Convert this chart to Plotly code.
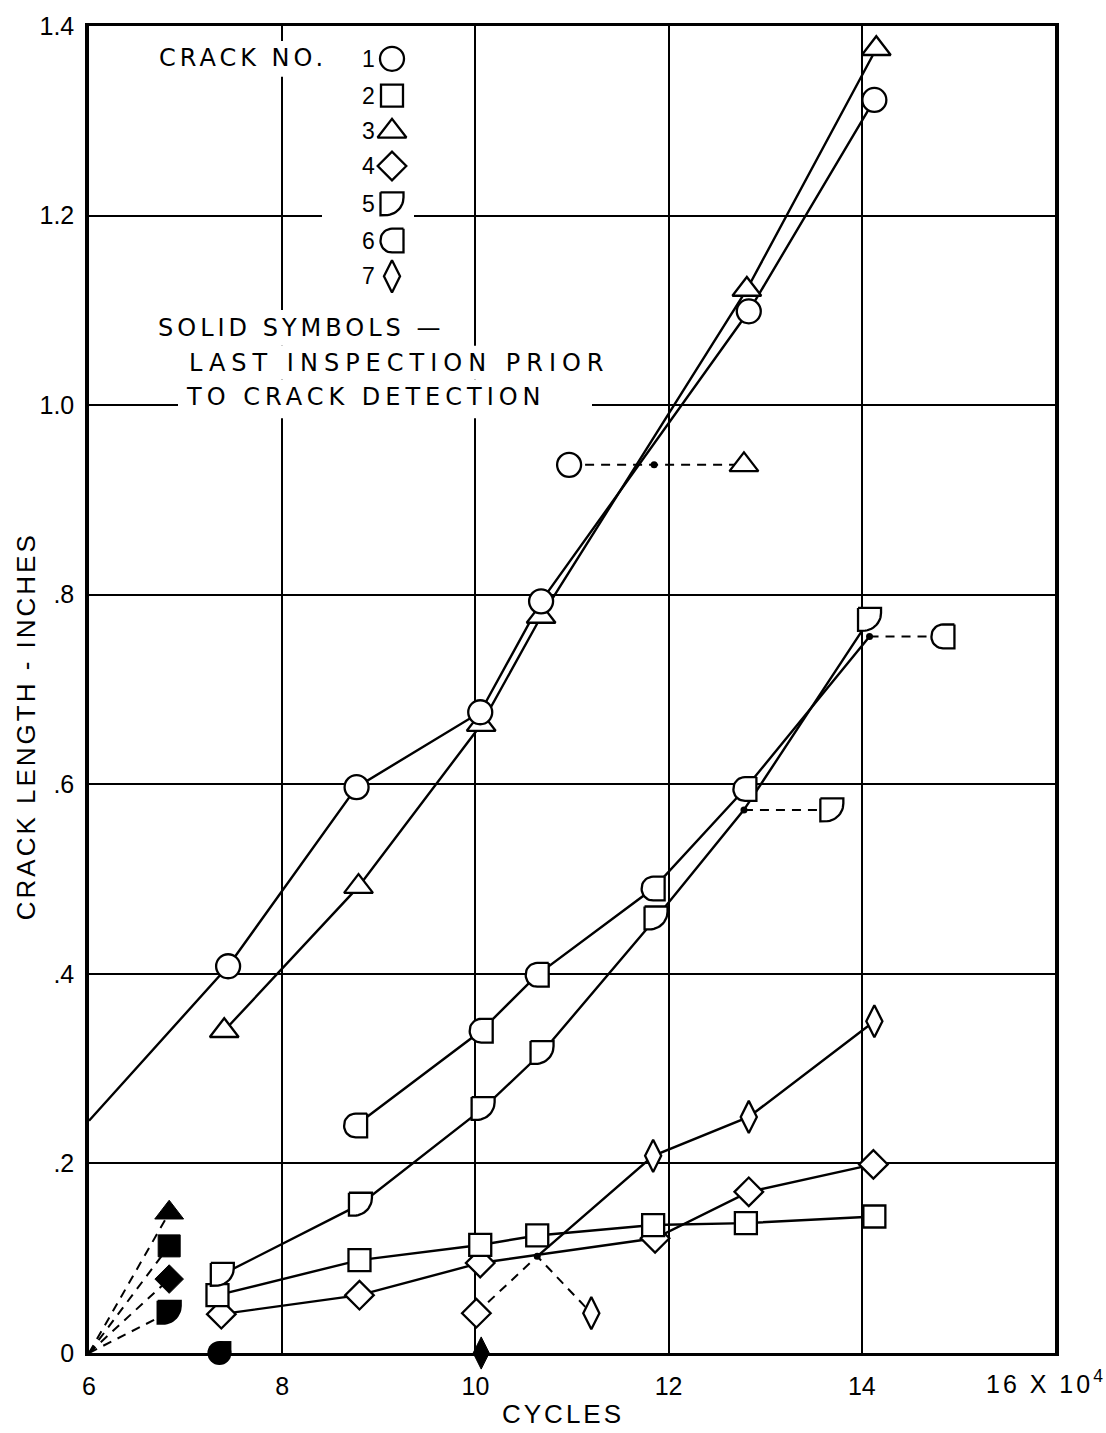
import numpy as np
import plotly.graph_objects as go

# ---------------- data: cycles (x 10^4) and crack length (inches) ----------------
crack1_cycles = [6.00, 7.44, 8.77, 10.05, 10.68, 12.83, 14.13]   # first point: line start only
crack1_length = [0.245, 0.408, 0.597, 0.676, 0.793, 1.099, 1.322]
crack2_cycles = [7.33, 8.80, 10.05, 10.64, 11.84, 12.80, 14.13]
crack2_length = [0.061, 0.098, 0.114, 0.124, 0.135, 0.137, 0.144]
crack3_cycles = [7.40, 8.79, 10.06, 10.68, 12.81, 14.15]
crack3_length = [0.340, 0.492, 0.663, 0.777, 1.122, 1.376]
crack4_cycles = [7.37, 8.80, 10.05, 11.86, 12.83, 14.12]
crack4_length = [0.041, 0.061, 0.095, 0.121, 0.170, 0.199]
crack5_cycles = [7.38, 8.81, 10.08, 10.69, 11.87, 12.78, 14.08]  # 12.78 shown as dot
crack5_length = [0.083, 0.157, 0.258, 0.317, 0.459, 0.573, 0.774]
crack6_cycles = [8.76, 10.06, 10.64, 11.84, 12.79, 14.08]        # 14.08 shown as dot
crack6_length = [0.240, 0.340, 0.399, 0.490, 0.595, 0.756]
crack7_cycles = [10.64, 11.84, 12.83, 14.13]                     # first point: dot on crack 4
crack7_length = [0.102, 0.208, 0.249, 0.350]

# displaced symbols (linked to dots by dashed lines)
crack5_label_cycles, crack5_label_length = 13.69, 0.573
crack6_label_cycles, crack6_label_length = 14.84, 0.756
link13_cycles = [10.97, 11.85, 12.78]          # circle - dot - triangle
link13_length = [0.937, 0.937, 0.937]
link47_cycles = [10.01, 10.64, 11.20]          # diamond - dot - tall diamond
link47_length = [0.042, 0.102, 0.042]

# solid symbols: last inspection prior to crack detection
solid_crack = [3, 2, 4, 5, 6, 7]
solid_cycles = [6.83, 6.83, 6.83, 6.83, 7.35, 10.06]
solid_length = [0.148, 0.113, 0.078, 0.043, 0.0, 0.0]
ray_origin_cycles, ray_origin_length = 6.0, 0.0

x_ticks = [6, 8, 10, 12, 14]
x_ticktext = ["6", "8", "10", "12", "14"]
y_ticks = [0, 0.2, 0.4, 0.6, 0.8, 1.0, 1.2, 1.4]
y_ticktext = ["0", ".2", ".4", ".6", ".8", "1.0", "1.2", "1.4"]

# ---------------- layout constants ----------------
W, H = 1106, 1433
ML, MR, MT, MB = 89, 51, 17, 80
PW, PH = W - ML - MR, H - MT - MB
XR, YR = (6, 16), (0, 1.4)
PPX = PW / (XR[1] - XR[0])
PPY = PH / (YR[1] - YR[0])
LW = 2.4
OUT = 2.3
BLACK = "black"


def px_x(px):
    return XR[0] + (px - ML) / PPX


def px_y(py):
    return YR[0] + (MT + PH - py) / PPY


def paper_x(px):
    return (px - ML) / PW


def paper_y(py):
    return (MT + PH - py) / PH


def spaced(s, sp):
    return f'<span style="letter-spacing:{sp}px">{s}</span>'


def d5_offsets(w=23, h=23):
    r = 0.78 * min(w, h)
    pts = [(-w / 2, -h / 2), (w / 2, -h / 2), (w / 2, h / 2 - r)]
    cx, cy = w / 2 - r, h / 2 - r
    for t in np.linspace(0, np.pi / 2, 14):
        pts.append((cx + r * np.cos(t), cy + r * np.sin(t)))
    pts += [(-w / 2, h / 2), (-w / 2, -h / 2)]
    return pts


def d6_offsets(w=23, h=24):
    r = 0.48 * h
    pts = [(w / 2, -h / 2), (w / 2, h / 2), (-w / 2 + r, h / 2)]
    cx, cy = -w / 2 + r, h / 2 - r
    for t in np.linspace(np.pi / 2, np.pi, 10):
        pts.append((cx + r * np.cos(t), cy + r * np.sin(t)))
    cx, cy = -w / 2 + r, -h / 2 + r
    for t in np.linspace(np.pi, 1.5 * np.pi, 10):
        pts.append((cx + r * np.cos(t), cy + r * np.sin(t)))
    pts.append((w / 2, -h / 2))
    return pts


def poly_trace(xs, ys, offsets, fill):
    X, Y = [], []
    for x, y in zip(xs, ys):
        for dx, dy in offsets:
            X.append(x + dx / PPX)
            Y.append(y - dy / PPY)
        X.append(None)
        Y.append(None)
    return go.Scatter(x=X, y=Y, mode="lines", fill="toself", fillcolor=fill,
                      line=dict(color=BLACK, width=OUT), hoverinfo="skip",
                      showlegend=False)


def line_trace(xs, ys, dash="solid", width=LW):
    return go.Scatter(x=xs, y=ys, mode="lines",
                      line=dict(color=BLACK, width=width, dash=dash),
                      hoverinfo="skip", showlegend=False)


def marker_trace(xs, ys, symbol, size, fill="white", outline=OUT):
    return go.Scatter(x=xs, y=ys, mode="markers", cliponaxis=False,
                      marker=dict(symbol=symbol, size=size, color=fill,
                                  line=dict(color=BLACK, width=outline)),
                      hoverinfo="skip", showlegend=False)


fig = go.Figure()

# ---------------- solid lines ----------------
for xs, ys in [(crack1_cycles, crack1_length), (crack2_cycles, crack2_length),
               (crack3_cycles, crack3_length), (crack4_cycles, crack4_length),
               (crack5_cycles, crack5_length), (crack6_cycles, crack6_length),
               (crack7_cycles, crack7_length)]:
    fig.add_trace(line_trace(xs, ys))

# ---------------- dashed lines ----------------
DASH = "9px,7px"
DW = 2.0
fig.add_trace(line_trace(link13_cycles, link13_length, DASH, DW))
fig.add_trace(line_trace(link47_cycles, link47_length, DASH, DW))
fig.add_trace(line_trace([crack5_cycles[5], crack5_label_cycles],
                         [crack5_length[5], crack5_label_length], DASH, DW))
fig.add_trace(line_trace([crack6_cycles[-1], crack6_label_cycles],
                         [crack6_length[-1], crack6_label_length], DASH, DW))
for c, x, y in zip(solid_crack, solid_cycles, solid_length):
    if c in (2, 3, 4, 5):
        fig.add_trace(line_trace([ray_origin_cycles, x], [ray_origin_length, y], DASH, DW))

# ---------------- open symbols ----------------
fig.add_trace(marker_trace(crack7_cycles[1:] + [link47_cycles[2]],
                           crack7_length[1:] + [link47_length[2]], "diamond-tall", 23))
fig.add_trace(marker_trace(crack4_cycles + [link47_cycles[0]],
                           crack4_length + [link47_length[0]], "diamond", 22))
fig.add_trace(marker_trace(crack2_cycles, crack2_length, "square", 22))
c5x = crack5_cycles[:5] + crack5_cycles[6:] + [crack5_label_cycles]
c5y = crack5_length[:5] + crack5_length[6:] + [crack5_label_length]
fig.add_trace(poly_trace(c5x, c5y, d5_offsets(), "white"))
c6x = crack6_cycles[:-1] + [crack6_label_cycles]
c6y = crack6_length[:-1] + [crack6_label_length]
fig.add_trace(poly_trace(c6x, c6y, d6_offsets(), "white"))
fig.add_trace(marker_trace(crack3_cycles + [link13_cycles[2]],
                           crack3_length + [link13_length[2]], "triangle-up", 25))
fig.add_trace(marker_trace(crack1_cycles[1:] + [link13_cycles[0]],
                           crack1_length[1:] + [link13_length[0]], "circle", 24))

# ---------------- dots ----------------
fig.add_trace(go.Scatter(
    x=[link13_cycles[1], link47_cycles[1], crack5_cycles[5], crack6_cycles[-1]],
    y=[link13_length[1], link47_length[1], crack5_length[5], crack6_length[-1]],
    mode="markers", marker=dict(size=7, color=BLACK), hoverinfo="skip", showlegend=False))

# ---------------- solid symbols ----------------
sym_of = {2: ("square", 22), 3: ("triangle-up", 25), 4: ("diamond", 22), 7: ("diamond-tall", 23)}
for c, x, y in zip(solid_crack, solid_cycles, solid_length):
    if c in sym_of:
        s, sz = sym_of[c]
        fig.add_trace(marker_trace([x], [y], s, sz, fill=BLACK, outline=1))
    elif c == 5:
        fig.add_trace(poly_trace([x], [y], d5_offsets(), BLACK))
    elif c == 6:
        # rounded-left / flat-right solid symbol built from a circle and a right block
        fig.add_trace(marker_trace([x], [y], "circle", 24, fill=BLACK, outline=0))
        fig.add_trace(marker_trace([x + 6 / PPX, x + 6 / PPX], [y + 6 / PPY, y - 6 / PPY],
                                   "square", 12, fill=BLACK, outline=0))

# ---------------- key (crack numbers) ----------------
LEG_NUM_X, LEG_SYM_X = 368, 392
LEG_Y = [50, 87, 123, 158, 196, 233, 269]
leg_syms = [("circle", 24), ("square", 22), ("triangle-up", 25), ("diamond", 22),
            ("d5", 0), ("d6", 0), ("diamond-tall", 23)]
for i, ((s, sz), py) in enumerate(zip(leg_syms, LEG_Y)):
    sx, sy = px_x(LEG_SYM_X), px_y(py)
    if s == "d5":
        fig.add_trace(poly_trace([sx], [sy], d5_offsets(), "white"))
    elif s == "d6":
        fig.add_trace(poly_trace([sx], [sy], d6_offsets(), "white"))
    else:
        fig.add_trace(marker_trace([sx], [sy], s, sz))
    fig.add_annotation(text=str(i + 1), xref="paper", yref="paper",
                       x=paper_x(LEG_NUM_X), y=paper_y(py), xanchor="center", yanchor="middle",
                       showarrow=False, font=dict(family="Liberation Sans", size=23, color=BLACK))

TXT = dict(family="DejaVu Sans", size=24, color=BLACK)
for text, sp, px, py in [("CRACK NO.", 4, 157, 49), ("SOLID SYMBOLS \u2014", 4, 156, 321),
                         ("LAST INSPECTION PRIOR", 6, 187, 356),
                         ("TO CRACK DETECTION", 5, 184, 391)]:
    fig.add_annotation(text=spaced(text, sp), xref="paper", yref="paper",
                       x=paper_x(px), y=paper_y(py), xanchor="left", yanchor="middle",
                       showarrow=False, font=TXT)

# masks that interrupt the grid behind the key text
MASKS_PX = [(150, 32, 334, 68), (322, 34, 414, 288), (150, 303, 460, 339),
            (178, 339, 620, 373), (178, 373, 592, 412)]
for (x0, y0, x1, y1) in MASKS_PX:
    fig.add_shape(type="rect", xref="x", yref="y", x0=px_x(x0), x1=px_x(x1),
                  y0=px_y(y1), y1=px_y(y0), fillcolor="white", line_width=0, layer="between")

# ---------------- axis titles ----------------
fig.add_annotation(text=spaced("CRACK LENGTH - INCHES", 3), xref="paper", yref="paper",
                   x=paper_x(26), y=paper_y(722), textangle=-90, showarrow=False,
                   xanchor="center", yanchor="middle",
                   font=dict(family="Liberation Sans", size=26, color=BLACK))
fig.add_annotation(text=spaced("CYCLES", 3), xref="paper", yref="paper",
                   x=paper_x(563), y=paper_y(1414), showarrow=False,
                   xanchor="center", yanchor="middle",
                   font=dict(family="Liberation Sans", size=26, color=BLACK))
fig.add_annotation(text=spaced("16 X 10", 3) + "<sup>4</sup>", xref="paper", yref="paper",
                   x=paper_x(984), y=paper_y(1382), showarrow=False,
                   xanchor="left", yanchor="middle",
                   font=dict(family="Liberation Sans", size=25, color=BLACK))

TICKF = dict(family="Liberation Sans", size=25, color=BLACK)
fig.update_xaxes(range=list(XR), tickvals=x_ticks, ticktext=x_ticktext, showgrid=True,
                 gridcolor=BLACK, gridwidth=1.6, showline=True, linecolor=BLACK, linewidth=3,
                 mirror=True, ticks="", zeroline=False, tickfont=TICKF, ticklabelstandoff=9,
                 fixedrange=True)
fig.update_yaxes(range=list(YR), tickvals=y_ticks, ticktext=y_ticktext, showgrid=True,
                 gridcolor=BLACK, gridwidth=1.6, showline=True, linecolor=BLACK, linewidth=3.5,
                 mirror=True, ticks="", zeroline=False, tickfont=TICKF, ticklabelstandoff=6,
                 fixedrange=True)
fig.update_layout(width=W, height=H, margin=dict(l=ML, r=MR, t=MT, b=MB, pad=0),
                  plot_bgcolor="white", paper_bgcolor="white", showlegend=False,
                  hovermode=False)

fig.write_html("out.html", config={"displayModeBar": False},
               post_script="document.body.style.margin='0px';document.body.style.padding='0px';")
